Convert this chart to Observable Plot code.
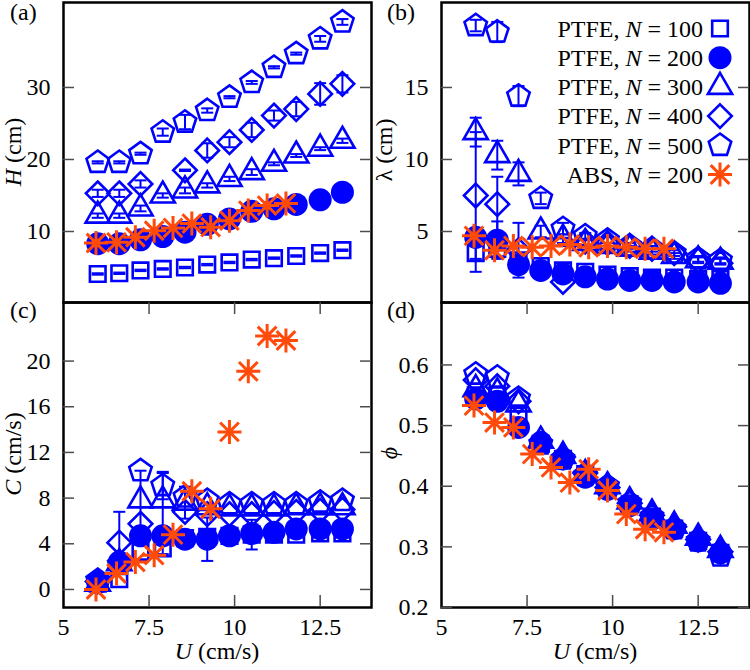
<!DOCTYPE html>
<html><head><meta charset="utf-8">
<script src="https://cdn.jsdelivr.net/npm/d3@7"></script>
<script src="https://cdn.jsdelivr.net/npm/@observablehq/plot@0.6"></script>
<style>
body{margin:0;background:#fff;}
#wrap{position:relative;width:750px;height:670px;overflow:hidden;font-family:'Liberation Serif','DejaVu Serif',serif;}
#wrap > svg{position:absolute;}
#wrap text, #wrap tspan{font-family:'Liberation Serif','DejaVu Serif',serif !important;}
</style></head><body><div id="wrap"></div>
<script>
// ---------- data ----------
const U_PTFE = [6.0, 6.63, 7.25, 7.9, 8.55, 9.2, 9.85, 10.5, 11.15, 11.8, 12.5, 13.15];
const U_ABS  = [5.95, 6.55, 7.1, 7.65, 8.2, 8.75, 9.3, 9.85, 10.4, 10.95, 11.5];
const X_TICK_LABELS = [5, 7.5, 10, 12.5];
const X_TICK_MARKS = [7.5, 10, 12.5];
const LEGEND_LABELS = ["PTFE, |N| = 100", "PTFE, |N| = 200", "PTFE, |N| = 300", "PTFE, |N| = 400", "PTFE, |N| = 500", "ABS, |N| = 200"];

// (a) H (cm)
const H_100 = [4.1, 4.2, 4.6, 4.8, 5.0, 5.4, 5.7, 6.1, 6.3, 6.6, 7.0, 7.4];
const H_100_ERR = [0.1, 0.1, 0.1, 0.1, 0.1, 0.1, 0.1, 0.1, 0.1, 0.1, 0.1, 0.1];
const H_200 = [8.3, 8.3, 8.85, 9.3, 9.9, 11.0, 11.75, 12.8, 13.15, 13.75, 14.4, 15.45];
const H_300 = [12.2, 12.2, 13.2, 15.0, 15.7, 16.4, 17.3, 18.25, 19.4, 20.55, 21.5, 22.6];
const H_300_ERR = [0.3, 0.3, 0.4, 0.3, 0.4, 0.3, 0.3, 0.4, 0.2, 0.2, 0.2, 0.3];
const H_400 = [15.3, 15.3, 16.6, null, 18.5, 21.25, 22.4, 24.1, 26.1, 27.0, 29.1, 30.5];
const H_400_ERR = [0.5, 0.5, 0.5, null, 0.1, 1.0, 0.7, 1.0, 0.7, 1.0, 1.5, 1.2];
const H_500 = [19.6, 19.6, 20.8, 23.8, 25.2, 26.8, 28.65, 30.7, 32.8, 34.7, 36.75, 39.1];
const H_500_ERR = [0.15, 0.15, 0.15, 0.5, 1.0, 0.3, 0.15, 0.2, 0.15, 0.15, 0.4, 0.4];
const H_ABS = [8.4, 8.5, 9.2, 10.1, 10.5, 11.1, 10.6, 11.5, 12.9, 13.6, 13.9];

// (b) lambda (cm)
const L_100 = [3.5, 3.8, 3.0, 2.6, 2.3, 2.2, 2.0, 1.9, 1.8, 1.8, 1.7, 1.7];
const L_100_ERR = [1.3, 0, 0, 0, 0, 0, 0, 0, 0, 0, 0, 0];
const L_200 = [4.6, 4.4, 2.7, 2.3, 2.05, 1.85, 1.7, 1.6, 1.6, 1.5, 1.5, 1.4];
const L_200_ERR = [0, 1.3, 0, 0, 0, 0, 0, 0, 0, 0, 0, 0];
const L_300 = [11.9, 10.3, 9.0, 5.0, 4.5, 4.2, 4.0, 3.8, 3.6, 3.3, 3.0, 2.9];
const L_300_ERR = [1.0, 1.0, 0.8, 0.4, 0.3, 0.2, 0.2, 0.2, 0.2, 0.2, 0.2, 0.2];
const L_400 = [7.5, 6.9, 3.7, null, 1.5, 4.3, 4.2, 4.0, 3.8, 3.5, 3.0, 2.8];
const L_400_ERR = [4.4, 1.9, 1.9, null, 0, 0, 0, 0, 0, 0, 0, 0];
const L_500 = [19.3, 18.85, 14.4, 7.3, 5.2, 4.7, 4.4, 4.0, 3.8, 3.5, 3.1, 3.0];
const L_500_ERR = [0.4, 0.7, 0.7, 0.4, 0.4, 0.2, 0.2, 0.2, 0.2, 0.2, 0.2, 0.2];
const L_ABS = [4.7, 3.7, 4.0, 3.9, 4.0, 4.1, 3.9, 4.0, 3.9, 3.8, 3.8];

// (c) C (cm/s)
const C_100 = [0.5, 0.9, 3.3, 3.6, 4.5, 4.6, 4.7, 4.8, 4.8, 4.8, 4.9, 4.9];
const C_100_ERR = [0, 0, 0, 0.5, 0, 0, 0, 1.3, 0, 0, 0, 0];
const C_200 = [0.6, 2.4, 4.7, 4.7, 4.4, 4.4, 4.7, 4.9, 5.0, 5.3, 5.3, 5.3];
const C_200_ERR = [0, 0, 0, 0, 0, 1.9, 0, 0, 0, 0, 0, 0];
const C_300 = [0.5, 2.3, 7.8, 7.8, 7.6, 7.2, 7.1, 7.1, 7.1, 7.2, 7.2, 7.2];
const C_300_ERR = [0, 0, 2.6, 2.4, 1.4, 0, 0, 0, 0, 0, 0, 0];
const C_400 = [0.7, 4.1, 5.75, null, 6.8, 6.6, 6.6, 6.6, 6.7, 6.8, 6.9, 7.0];
const C_400_ERR = [0, 2.7, 0, null, 0, 0, 0, 0, 0, 0, 0, 0];
const C_500 = [0.8, 2.2, 10.4, 9.1, 8.1, 7.8, 7.5, 7.5, 7.5, 7.5, 7.65, 7.8];
const C_500_ERR = [0, 0, 0, 1.2, 0, 0, 0, 0, 0, 0, 0, 0];
const C_ABS = [0.0, 1.4, 2.4, 3.0, 4.8, 8.6, 7.07, 13.8, 19.1, 22.2, 21.8];

// (d) phi
const P_100 = [0.55, 0.55, 0.52, 0.47, 0.445, 0.42, 0.395, 0.37, 0.35, 0.33, 0.31, 0.29];
const P_200 = [0.544, 0.54, 0.497, 0.472, 0.445, 0.415, 0.395, 0.368, 0.346, 0.33, 0.31, 0.29];
const P_300 = [0.56, 0.555, 0.535, 0.475, 0.45, 0.42, 0.4, 0.375, 0.355, 0.335, 0.315, 0.295];
const P_400 = [0.575, 0.565, 0.54, null, 0.448, 0.422, 0.398, 0.372, 0.352, 0.333, 0.312, 0.292];
const P_500 = [0.585, 0.58, 0.545, 0.47, 0.445, 0.418, 0.4, 0.372, 0.35, 0.33, 0.31, 0.285];
const P_ABS = [0.533, 0.505, 0.497, 0.453, 0.431, 0.406, 0.428, 0.393, 0.354, 0.329, 0.324];

// ---------- symbols ----------
const kr = s => Math.sqrt(s / Math.PI);
const symSquare = {draw(c, s) {const r = kr(s) * 0.78; c.moveTo(-r, -r); c.lineTo(r, -r); c.lineTo(r, r); c.lineTo(-r, r); c.closePath();}};
const symCircle = {draw(c, s) {const r = kr(s) * 1.15; c.moveTo(r, 0); c.arc(0, 0, r, 0, 2 * Math.PI);}};
const symTriangle = {draw(c, s) {const r = kr(s) * 1.4; c.moveTo(0, -r); c.lineTo(r * 0.866, r / 2); c.lineTo(-r * 0.866, r / 2); c.closePath();}};
const symDiamond = {draw(c, s) {const r = kr(s) * 1.18; c.moveTo(0, -r); c.lineTo(r, 0); c.lineTo(0, r); c.lineTo(-r, 0); c.closePath();}};
const symPentagon = {draw(c, s) {const r = kr(s) * 1.18; for (let i = 0; i < 5; i++) {const a = -Math.PI / 2 + i * 2 * Math.PI / 5; const x = r * Math.cos(a), y = r * Math.sin(a); if (i) c.lineTo(x, y); else c.moveTo(x, y);} c.closePath();}};
const symStar = {draw(c, s) {const r = kr(s) * 1.2, d = r * 0.78; c.moveTo(0, -r); c.lineTo(0, r); c.moveTo(-r, 0); c.lineTo(r, 0); c.moveTo(-d, -d); c.lineTo(d, d); c.moveTo(-d, d); c.lineTo(d, -d);}};
const symCap = {draw(c, s) {const r = kr(s); c.moveTo(-r, 0); c.lineTo(r, 0);}};

const BLUE = "#0000ff", ORANGE = "#ff4a0a", TICK = "#4d4d4d";
const FONT = "'Liberation Serif','DejaVu Serif',serif";
const STYLES = [
  {sym: symSquare, fill: "none", stroke: BLUE, sw: 2.6},
  {sym: symCircle, fill: BLUE, stroke: "none", sw: 0},
  {sym: symTriangle, fill: "none", stroke: BLUE, sw: 2.6},
  {sym: symDiamond, fill: "none", stroke: BLUE, sw: 2.6},
  {sym: symPentagon, fill: "none", stroke: BLUE, sw: 2.6},
  {sym: symStar, fill: "none", stroke: ORANGE, sw: 3}
];

const wrap = document.getElementById("wrap");
const FW = 308;

function makePanel(cfg) {
  const FH = cfg.height - cfg.mt - cfg.mb;
  const marks = [Plot.frame({stroke: "#000", strokeWidth: 2.5})];
  marks.push(Plot.tickY(cfg.yTicks, {y: d => d, insetRight: FW - 11, stroke: TICK, strokeWidth: 1.5}));
  marks.push(Plot.tickY(cfg.yTicks, {y: d => d, insetLeft: FW - 11, stroke: TICK, strokeWidth: 1.5}));
  if (cfg.xAxis) {
    marks.push(Plot.tickX(X_TICK_MARKS, {x: d => d, insetTop: FH - 12, stroke: TICK, strokeWidth: 1.5}));
    marks.push(Plot.tickX(X_TICK_MARKS, {x: d => d, insetBottom: FH - 12, stroke: TICK, strokeWidth: 1.5}));
    marks.push(Plot.axisX(X_TICK_LABELS, {anchor: "bottom", tickSize: 0, tickPadding: 10, label: null, fontFamily: FONT, fontSize: 24, tickFormat: d => String(d)}));
  }
  marks.push(Plot.axisY(cfg.yTicks, {anchor: "left", tickSize: 0, tickPadding: 13, label: null, fontFamily: FONT, fontSize: 24, tickFormat: d => String(d)}));
  cfg.series.forEach((s, k) => {
    const st = STYLES[k];
    const xs = k === 5 ? U_ABS : U_PTFE;
    const rows = xs.map((x, i) => ({x, y: s.y[i], e: s.e ? (s.e[i] || 0) : 0})).filter(d => d.y != null);
    const eb = rows.filter(d => d.e > 0);
    if (eb.length) {
      marks.push(Plot.ruleX(eb, {x: "x", y1: d => d.y - d.e, y2: d => d.y + d.e, stroke: BLUE, strokeWidth: 2}));
      marks.push(Plot.dot(eb, {x: "x", y: d => d.y - d.e, symbol: symCap, r: 6, stroke: BLUE, strokeWidth: 2}));
      marks.push(Plot.dot(eb, {x: "x", y: d => d.y + d.e, symbol: symCap, r: 6, stroke: BLUE, strokeWidth: 2}));
    }
    marks.push(Plot.dot(rows, {x: "x", y: "y", symbol: st.sym, r: 10, fill: st.fill, stroke: st.stroke, strokeWidth: st.sw}));
  });
  const svg = Plot.plot({
    width: cfg.ml + FW + cfg.mr, height: cfg.height,
    marginLeft: cfg.ml, marginRight: cfg.mr, marginTop: cfg.mt, marginBottom: cfg.mb,
    x: {domain: [5, 14], axis: null},
    y: {domain: cfg.yDomain, axis: null},
    style: {fontFamily: FONT, fontSize: "24px", background: "none", overflow: "visible", color: "#000"},
    marks
  });
  svg.setAttribute("font-family", FONT);
  svg.style.left = cfg.left + "px";
  svg.style.top = cfg.top + "px";
  wrap.appendChild(svg);
}

makePanel({left: 0, top: 0, ml: 63, mr: 9, mt: 2, mb: 2, height: 304, xAxis: false,
  yDomain: [0.14, 41.8], yTicks: [10, 20, 30],
  series: [{y: H_100, e: H_100_ERR}, {y: H_200}, {y: H_300, e: H_300_ERR}, {y: H_400, e: H_400_ERR}, {y: H_500, e: H_500_ERR}, {y: H_ABS}]});
makePanel({left: 371, top: 0, ml: 70, mr: 1, mt: 2, mb: 2, height: 304, xAxis: false,
  yDomain: [0.07, 20.9], yTicks: [5, 10, 15],
  series: [{y: L_100, e: L_100_ERR}, {y: L_200, e: L_200_ERR}, {y: L_300, e: L_300_ERR}, {y: L_400, e: L_400_ERR}, {y: L_500, e: L_500_ERR}, {y: L_ABS}]});
makePanel({left: 0, top: 300, ml: 63, mr: 9, mt: 2, mb: 63, height: 370, xAxis: true,
  yDomain: [-1.58, 25.13], yTicks: [0, 4, 8, 12, 16, 20],
  series: [{y: C_100, e: C_100_ERR}, {y: C_200, e: C_200_ERR}, {y: C_300, e: C_300_ERR}, {y: C_400, e: C_400_ERR}, {y: C_500, e: C_500_ERR}, {y: C_ABS}]});
makePanel({left: 371, top: 300, ml: 70, mr: 1, mt: 2, mb: 63, height: 370, xAxis: true,
  yDomain: [0.2, 0.703], yTicks: [0.2, 0.3, 0.4, 0.5, 0.6],
  series: [{y: P_100}, {y: P_200}, {y: P_300}, {y: P_400}, {y: P_500}, {y: P_ABS}]});

// ---------- overlay texts & legend ----------
const ov = d3.select(wrap).append("svg").attr("width", 750).attr("height", 670)
  .style("left", "0px").style("top", "0px").style("pointer-events", "none")
  .attr("font-family", FONT).attr("font-size", 24);

function label(x, y, parts, rotate, anchor) {
  const t = ov.append("text").attr("text-anchor", anchor || "middle")
    .attr("transform", `translate(${x},${y})` + (rotate ? " rotate(-90)" : ""));
  parts.forEach(([txt, it]) => t.append("tspan").text(txt).attr("font-style", it ? "italic" : null));
}
label(10, 20, [["(a)"]], false, "start");
label(387, 20, [["(b)"]], false, "start");
label(10, 318, [["(c)"]], false, "start");
label(387, 318, [["(d)"]], false, "start");
label(21, 152, [["H", true], [" (cm)"]], true);
label(392, 150, [["λ"], [" (cm)"]], true);
label(21, 454, [["C", true], [" (cm/s)"]], true);
label(397, 453, [["ϕ", true]], true);
label(217, 659, [["U", true], [" (cm/s)"]], false);
label(595, 659, [["U", true], [" (cm/s)"]], false);

LEGEND_LABELS.forEach((lab, i) => {
  const cy = 28.5 + 29.2 * i;
  const [a, n, b] = lab.split("|");
  label(703, cy + 8.3, [[a], [n, true], [b]], false, "end");
  const st = STYLES[i];
  const p = d3.path();
  st.sym.draw(p, Math.PI * 100);
  ov.append("path").attr("d", p.toString()).attr("transform", `translate(720,${cy})`)
    .attr("fill", st.fill).attr("stroke", st.stroke).attr("stroke-width", st.sw);
});
</script></body></html>
